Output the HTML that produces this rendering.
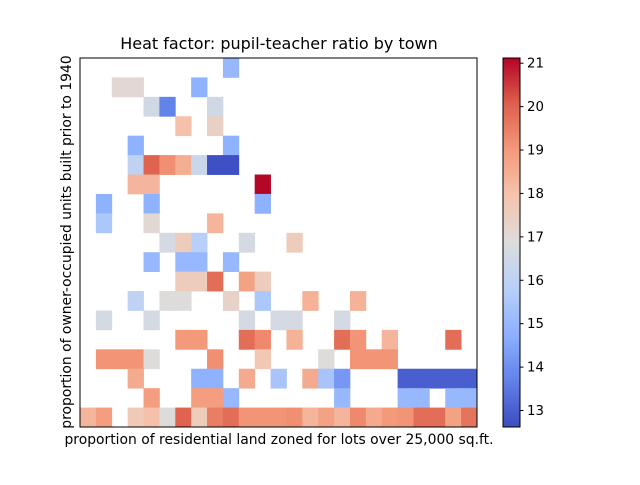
<!DOCTYPE html>
<html><head><meta charset="utf-8"><style>
body{margin:0;background:#fff;font-family:"Liberation Sans","DejaVu Sans",sans-serif}
svg text{font-family:"DejaVu Sans","Liberation Sans",sans-serif}
</style></head><body>
<svg id="chart" width="640" height="480" viewBox="0 0 640 480">
<rect width="640" height="480" fill="#fff"/>
<text x="279" y="49" font-size="16" text-anchor="middle">Heat factor: pupil-teacher ratio by town</text>
<g id="cells"></g>
<rect x="80" y="58" width="397" height="369" fill="none" stroke="#000" stroke-width="1"/>
<text x="279" y="444" font-size="13.9" text-anchor="middle">proportion of residential land zoned for lots over 25,000 sq.ft.</text>
<text transform="translate(71,242) rotate(-90)" font-size="13.9" text-anchor="middle">proportion of owner-occupied units built prior to 1940</text>
<defs><linearGradient id="cg" x1="0" y1="1" x2="0" y2="0"></linearGradient></defs>
<rect x="503" y="58" width="17" height="369" fill="url(#cg)" stroke="#000" stroke-width="1"/>
<g id="cbticks"></g>
</svg>
<script>
const nCols = 25, nRows = 19;
const cellRows = [0,1,1,1,2,2,2,3,3,4,4,5,5,5,5,5,5,5,6,6,6,7,7,7,8,8,8,9,9,9,9,9,10,10,10,10,11,11,11,11,11,12,12,12,12,12,12,12,13,13,13,13,13,13,14,14,14,14,14,14,14,14,14,15,15,15,15,15,15,15,15,15,15,16,16,16,16,16,16,16,16,16,16,16,16,16,17,17,17,17,17,17,17,17,17];
const cellCols = [9,2,3,7,4,5,8,6,8,3,9,3,4,5,6,7,8,9,3,4,11,1,4,11,1,4,8,5,6,7,10,13,4,6,7,9,6,7,8,10,11,3,5,6,9,11,14,17,1,4,10,12,13,16,6,7,10,11,13,16,17,19,23,1,2,3,4,8,11,15,17,18,19,3,7,8,10,12,14,15,16,20,21,22,23,24,4,7,8,9,16,20,21,23,24];
const cellVals = [15.0,17.1,17.1,14.8,16.5,13.7,16.5,18.0,17.4,14.8,14.8,16.0,20.0,19.2,18.5,16.3,12.7,12.7,18.3,18.3,21.1,14.8,14.8,14.8,15.5,17.1,18.3,16.6,17.6,15.8,16.6,17.6,15.0,15.0,15.0,15.0,17.6,17.6,19.8,18.8,17.6,16.0,16.9,16.9,17.3,15.5,18.4,18.4,16.6,16.6,16.6,16.6,16.6,16.6,19.0,19.0,19.8,19.3,18.4,19.8,19.1,18.3,19.8,19.1,19.1,19.1,16.9,19.2,17.8,16.9,19.1,19.1,19.1,18.6,14.8,14.8,18.6,15.4,18.6,15.4,14.2,13.0,13.0,13.0,13.0,13.0,18.9,18.9,18.9,15.0,15.0,15.0,15.0,15.0,15.0];
const bottomVals = [18.3,18.9,null,17.7,18.0,16.9,20.0,17.6,19.5,19.8,19.1,19.1,19.1,19.2,18.3,18.8,18.3,19.3,18.6,19.0,19.1,19.8,19.8,18.8,19.7];
const cbTicks = [13,14,15,16,17,18,19,20,21];
const vmin = 12.62, vmax = 21.12;
const X0=80, X1=477, Y0=58, Y1=427;
const cw=(X1-X0)/nCols, ch=(Y1-Y0)/nRows;
const stops=[[59,76,192],[97,130,234],[141,176,254],[184,208,249],[221,220,220],[245,196,173],[244,154,123],[222,96,77],[180,4,38]];
function cmap(v){let t=Math.max(0,Math.min(1,(v-vmin)/(vmax-vmin)))*8;let i=Math.min(7,Math.floor(t)),f=t-i;const a=stops[i],b=stops[i+1];return `rgb(${a.map((c,k)=>Math.round(c+(b[k]-c)*f)).join(',')})`;}
const xPos=c=>X0+c*cw, yPos=r=>Y0+r*ch;
const NS='http://www.w3.org/2000/svg';
const g=document.getElementById('cells');
function addCell(r,c,v){
  const el=document.createElementNS(NS,'rect');
  el.setAttribute('x',xPos(c));el.setAttribute('y',yPos(r));
  el.setAttribute('width',cw+0.4);el.setAttribute('height',ch+0.4);
  el.setAttribute('fill',cmap(v));
  
  
  g.appendChild(el);
}
cellVals.forEach((v,i)=>addCell(cellRows[i],cellCols[i],v));
bottomVals.forEach((v,c)=>{if(v!==null)addCell(18,c,v);});
const gr=document.getElementById('cg');
for(let i=0;i<=8;i++){const s=document.createElementNS(NS,'stop');s.setAttribute('offset',i/8);s.setAttribute('stop-color',`rgb(${stops[i].join(',')})`);gr.appendChild(s);}
const tg=document.getElementById('cbticks');
const cbY=v=>Y1-(v-vmin)/(vmax-vmin)*(Y1-Y0);
cbTicks.forEach(t=>{
  const y=cbY(t);
  const l=document.createElementNS(NS,'line');
  l.setAttribute('x1',520);l.setAttribute('x2',523.5);l.setAttribute('y1',y);l.setAttribute('y2',y);l.setAttribute('stroke','#000');
  
  
  tg.appendChild(l);
  const tx=document.createElementNS(NS,'text');
  tx.setAttribute('x',527);tx.setAttribute('y',y+4.5);tx.setAttribute('font-size','13.3');tx.textContent=t;
  
  
  tg.appendChild(tx);
});
</script>
</body></html>
